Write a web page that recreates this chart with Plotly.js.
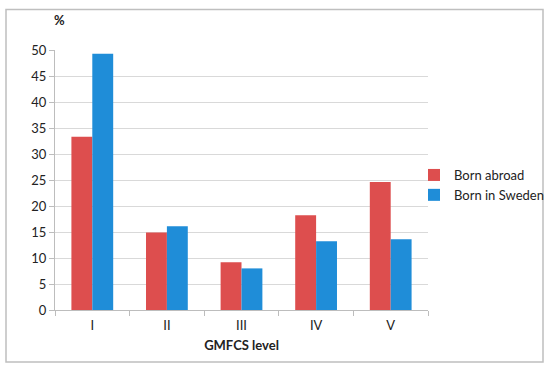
<!DOCTYPE html>
<html>
<head>
<meta charset="utf-8">
<script src="https://cdn.plot.ly/plotly-3.0.1.min.js"></script>
<style>html,body{margin:0;padding:0;background:#fff;}#chart{width:550px;height:369px;}</style>
</head>
<body>
<div id="chart"></div>
<script>
const categories = ["I", "II", "III", "IV", "V"];
const bornAbroad = [33.3, 14.9, 9.2, 18.2, 24.6];
const bornInSweden = [49.3, 16.1, 8.0, 13.2, 13.6];
const yTicks = [0, 5, 10, 15, 20, 25, 30, 35, 40, 45, 50];

const font = "Lato, 'Open Sans', sans-serif";
const traces = [
  {type: "bar", name: "Born abroad", x: categories, y: bornAbroad, marker: {color: "#DD4E4E"}},
  {type: "bar", name: "Born in Sweden", x: categories, y: bornInSweden, marker: {color: "#1F8DD8"}}
];
const layout = {
  width: 550, height: 369,
  margin: {l: 55, r: 122, t: 49.5, b: 59, autoexpand: false},
  paper_bgcolor: "#fff", plot_bgcolor: "#fff",
  font: {family: font, size: 13, color: "#222"},
  barmode: "group", bargap: 0.44, bargroupgap: 0,
  showlegend: true,
  legend: {xref: "container", yref: "container", x: 414/550, y: 1 - 185/369, xanchor: "left", yanchor: "middle", font: {size: 13, color: "#222"}, itemwidth: 30, tracegroupgap: 4, bgcolor: "rgba(0,0,0,0)"},
  xaxis: {
    type: "category", showgrid: false, showline: true, linecolor: "#BDBDBD", linewidth: 1,
    ticks: "outside", tickson: "boundaries", ticklen: 5, tickcolor: "#BDBDBD",
    ticklabelstandoff: 3,
    tickfont: {size: 13, color: "#222"},
    title: {text: "<b>GMFCS level</b>", font: {size: 13, color: "#222"}, standoff: 9}
  },
  yaxis: {
    range: [0, 50], tickvals: yTicks, showgrid: true, gridcolor: "#D9D9D9", gridwidth: 1,
    zeroline: false, showline: true, linecolor: "#BDBDBD", ticks: "outside", ticklen: 5, tickcolor: "#BDBDBD",
    tickfont: {size: 13, color: "#222"}, fixedrange: true
  },
  annotations: [
    {text: "<b>%</b>", xref: "paper", yref: "paper", x: 4/373, y: 1.117, xanchor: "center", yanchor: "middle", showarrow: false, font: {size: 13, color: "#222"}}
  ],
  shapes: [
    {type: "rect", xref: "paper", yref: "paper", x0: -49/373, x1: 488/373, y0: -52/260.5, y1: 301/260.5, line: {color: "#BFBFBF", width: 1.5}, fillcolor: "rgba(0,0,0,0)"}
  ]
};
Plotly.newPlot("chart", traces, layout, {displayModeBar: false, staticPlot: true});
</script>
</body>
</html>
